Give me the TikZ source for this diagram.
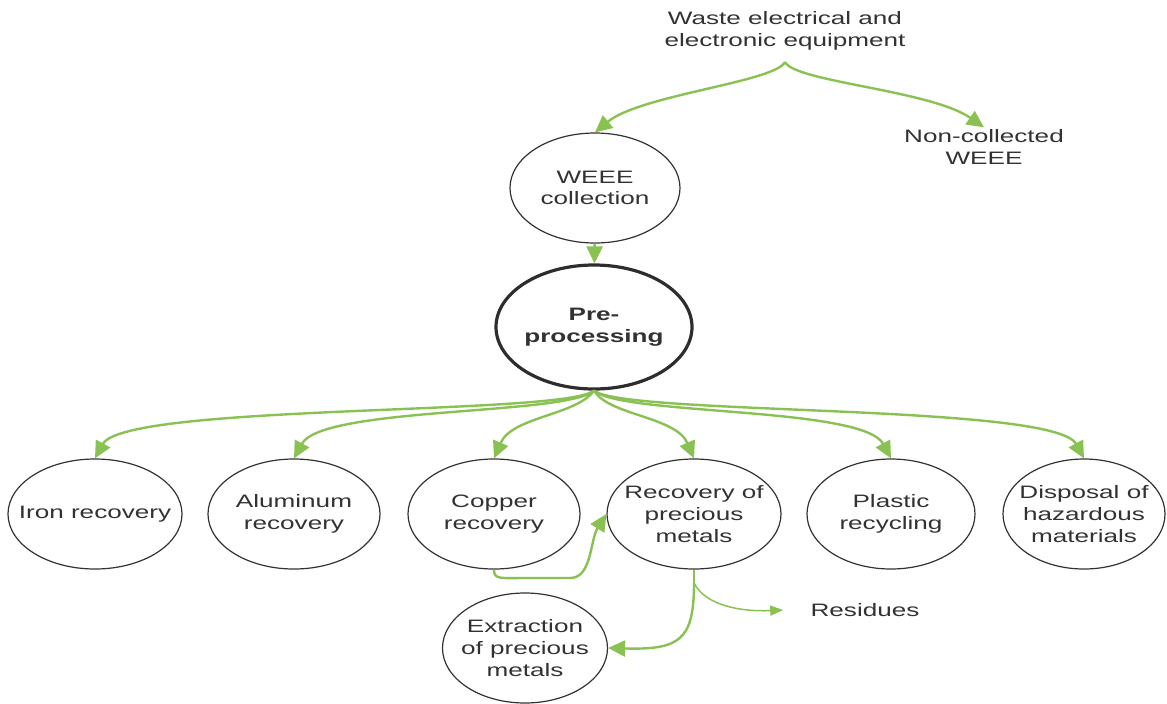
\documentclass[tikz,border=0pt]{standalone}
\usepackage{fontspec}
\setmainfont{Liberation Sans}[FakeStretch=1.45]
\usetikzlibrary{arrows.meta,shapes.geometric}
\definecolor{leaf}{RGB}{137,194,82}
\definecolor{ink}{RGB}{50,50,50}
\newcommand{\lbl}{\fontsize{9pt}{10.8pt}\selectfont}

\begin{document}
\begin{tikzpicture}[x=0.5pt,y=-0.5pt,
  bub/.style={draw=ink, line width=0.6pt, ellipse, inner sep=0pt, minimum height=55pt},
  txt/.style={text=ink, font=\lbl, align=center, inner sep=1pt},
  flow/.style={draw=leaf, line width=1.2pt, -{Triangle[length=8.5pt,width=8pt]}},
  thinflow/.style={draw=leaf, line width=0.75pt, -{Triangle[length=6.5pt,width=5pt]}}]
\useasboundingbox (0,0) rectangle (1167,703);
%top text and the two branches
\node[txt] (waste) at (785,31) {Waste electrical and\\electronic equipment};
\node[txt] (nc) at (984,147) {Non-collected\\WEEE};
\coordinate (split) at (785,62);
%ellipses
\node[bub, minimum width=85pt] (wc) at (595,188) {};
\node[txt] (wct) at (wc) {WEEE\\collection};
\node[bub, line width=1.6pt, draw=ink!90!black, minimum width=98pt, minimum height=62pt] (pp) at (594,327) {};
\node[txt] (ppt) at (pp) {\textbf{Pre-}\\\textbf{processing}};
\node[bub, minimum width=87pt] (iron) at (95,514) {};
\node[bub, minimum width=86pt] (alu) at (294,514) {};
\node[bub, minimum width=86pt] (cu) at (494,514) {};
\node[bub, minimum width=87pt] (pm) at (694,514) {};
\node[bub, minimum width=84pt] (pl) at (891,514) {};
\node[bub, minimum width=81pt] (dis) at (1084,514) {};
\node[bub, minimum width=82.5pt] (ex) at (525,648) {};
\node[txt] (iront) at (iron) {Iron recovery};
\node[txt] (alut) at (alu) {Aluminum\\recovery};
\node[txt] (cut) at (cu) {Copper\\recovery};
\node[txt] (pmt) at (pm) {Recovery of\\precious\\metals};
\node[txt] (plt) at (pl) {Plastic\\recycling};
\node[txt] (dist) at (dis) {Disposal of\\hazardous\\materials};
\node[txt] (ext) at (ex) {Extraction\\of precious\\metals};
\node[txt] (res) at (865,610) {Residues};
\coordinate (fork) at (694,583);
%arrows
\draw[flow] (split) .. controls (775,82) and (640,95) .. (wc.north);
\draw[flow] (split) .. controls (795,82) and (930,90) .. (nc.north);
\draw[flow] (wc) -- (pp);
\draw[flow] (pp.south) .. controls +(-30,25) and +(30,-55) .. (iron.north);
\draw[flow] (pp.south) .. controls +(-28,25) and +(28,-52) .. (alu.north);
\draw[flow] (pp.south) .. controls +(-18,25) and +(18,-42) .. (cu.north);
\draw[flow] (pp.south) .. controls +(15,25) and +(-18,-42) .. (pm.north);
\draw[flow] (pp.south) .. controls +(28,25) and +(-28,-52) .. (pl.north);
\draw[flow] (pp.south) .. controls +(30,25) and +(-30,-55) .. (dis.north);
\draw[flow] (cu.south) .. controls +(0,10) and +(-25,0) .. (525,578) -- (570,578) .. controls (592,578) and (590,540) .. (pm.west);
\draw[leaf, line width=1.2pt] (pm.south) -- (fork);
\draw[flow] (fork) .. controls (694,640) and (680,650) .. (ex.east);
\draw[thinflow] (fork) .. controls (705,605) and (740,612) .. ([xshift=-12.5pt]res.west);
\end{tikzpicture}
\end{document}
